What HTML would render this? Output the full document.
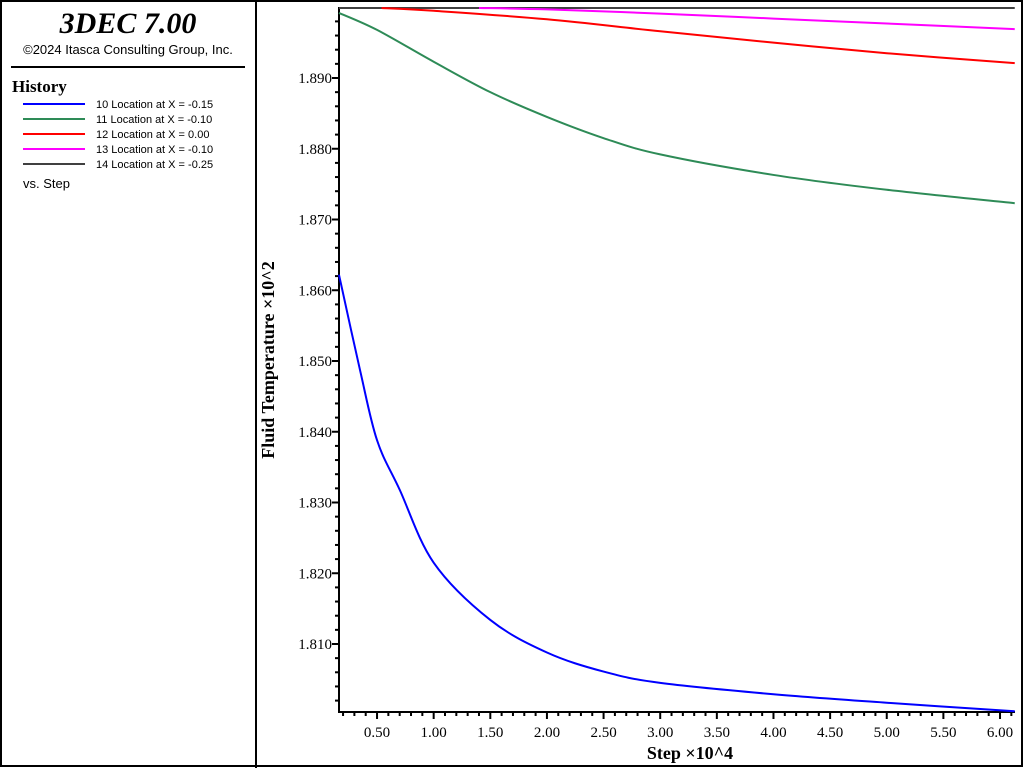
<!DOCTYPE html>
<html><head><meta charset="utf-8"><style>
body{margin:0;background:#fff;width:1024px;height:768px;overflow:hidden}
svg{display:block}
</style></head><body>
<svg id="c" width="1024" height="768" xmlns="http://www.w3.org/2000/svg">
<rect x="1" y="1" width="1021" height="765" fill="#fff" stroke="#000" stroke-width="2"/>
<line x1="256" y1="0" x2="256" y2="768" stroke="#000" stroke-width="2"/>
<text x="128" y="33" text-anchor="middle" font-family="Liberation Serif,serif" font-style="italic" font-weight="bold" font-size="30">3DEC 7.00</text>
<text x="128" y="54" text-anchor="middle" font-family="Liberation Sans,sans-serif" font-size="13">©2024 Itasca Consulting Group, Inc.</text>
<line x1="11" y1="67" x2="245" y2="67" stroke="#000" stroke-width="2"/>
<text x="12" y="92" font-family="Liberation Serif,serif" font-weight="bold" font-size="17">History</text>
<g id="legend" font-family="Liberation Sans,sans-serif" font-size="11"></g>
<text x="23" y="188" font-family="Liberation Sans,sans-serif" font-size="13">vs. Step</text>
<g id="plot"></g>
<text transform="translate(274,360) rotate(-90)" text-anchor="middle" font-family="Liberation Serif,serif" font-weight="bold" font-size="18">Fluid Temperature ×10^2</text>
<text x="690" y="759" text-anchor="middle" font-family="Liberation Serif,serif" font-weight="bold" font-size="18">Step ×10^4</text>
</svg>
<script>
const seriesNames=["10 Location at X = -0.15","11 Location at X = -0.10","12 Location at X =  0.00","13 Location at X = -0.10","14 Location at X = -0.25"];
const seriesColors=["#0000ff","#2e8b57","#ff0000","#ff00ff","#404040"];
const blueX=[0.164,0.35,0.5,0.7,1.0,1.5,2.0,2.5,3.0,4.0,5.0,6.13];
const blueY=[1.8622,1.8487,1.8388,1.8318,1.8215,1.8134,1.8088,1.8061,1.8045,1.8029,1.8017,1.8005];
const greenX=[0.164,0.5,1.0,1.5,2.0,2.5,3.0,4.0,5.0,6.13];
const greenY=[1.8992,1.8968,1.8923,1.8880,1.8845,1.8815,1.8792,1.8763,1.8742,1.8723];
const redX=[0.54,1.0,2.0,3.0,4.0,5.0,6.13];
const redY=[1.8999,1.8995,1.8983,1.8966,1.8950,1.8935,1.8921];
const magX=[1.4,2.0,3.0,4.0,5.0,6.13];
const magY=[1.8999,1.8997,1.8991,1.8984,1.8977,1.8969];
const grayX=[0.164,6.13];
const grayY=[1.8999,1.8999];
const xTicks=["0.50","1.00","1.50","2.00","2.50","3.00","3.50","4.00","4.50","5.00","5.50","6.00"];
const yTicks=["1.810","1.820","1.830","1.840","1.850","1.860","1.870","1.880","1.890"];
const NS="http://www.w3.org/2000/svg";
const L=339,R=1015,T=7,B=712;
function sx(v){return 320.4+v*113.27;}
function sy(v){return 78+(1.890-v)*7075;}
const plot=document.getElementById('plot');
function mk(tag,attrs,parent){const e=document.createElementNS(NS,tag);for(const k in attrs)e.setAttribute(k,attrs[k]);parent.appendChild(e);return e;}
const axes=mk('path',{d:`M${L},${T}V${B}H${R}`,fill:'none',stroke:'#000','stroke-width':2},plot);


// x minor ticks
for(let i=2;i<=61;i++){const v=i/10;const x=sx(v);if(x<L||x>R)continue;const maj=i%5===0;
const t=mk('line',{x1:x,x2:x,y1:B,y2:B+(maj?7:4),stroke:'#000','stroke-width':2},plot);

}
xTicks.forEach(s=>{const t=mk('text',{x:sx(parseFloat(s)),y:737,'text-anchor':'middle','font-family':'Liberation Serif,serif','font-size':15},plot);t.textContent=s;

});
for(let i=901;i<=950;i++){const v=i*0.002;const y=sy(v);if(y<T+3||y>B)continue;const maj=i%5===0;
const t=mk('line',{x1:L-(maj?7:4),x2:L,y1:y,y2:y,stroke:'#000','stroke-width':2},plot);

}
yTicks.forEach(s=>{const t=mk('text',{x:332,y:sy(parseFloat(s))+5,'text-anchor':'end','font-family':'Liberation Serif,serif','font-size':15},plot);t.textContent=s;

});
function smooth(xs,ys){const p=xs.map((x,i)=>[sx(x),sy(ys[i])]);let d=`M${p[0][0]},${p[0][1]}`;
for(let i=0;i<p.length-1;i++){const p0=p[i-1]||p[i],p1=p[i],p2=p[i+1],p3=p[i+2]||p2;
d+=`C${p1[0]+(p2[0]-p0[0])/6},${p1[1]+(p2[1]-p0[1])/6} ${p2[0]-(p3[0]-p1[0])/6},${p2[1]-(p3[1]-p1[1])/6} ${p2[0]},${p2[1]}`;}return d;}
const all=[[grayX,grayY],[magX,magY],[redX,redY],[greenX,greenY],[blueX,blueY]];
const cols=[seriesColors[4],seriesColors[3],seriesColors[2],seriesColors[1],seriesColors[0]];
const nm=['series-14','series-13','series-12','series-11','series-10'];
all.forEach((s,i)=>{const p=mk('path',{d:smooth(s[0],s[1]),fill:'none',stroke:cols[i],'stroke-width':2},plot);

});
const lg=document.getElementById('legend');
seriesNames.forEach((n,i)=>{const y=104+i*15;
const l=mk('line',{x1:23,x2:85,y1:y,y2:y,stroke:seriesColors[i],'stroke-width':2},lg);


const t=mk('text',{x:96,y:y+4},lg);t.textContent=n;

});
</script>
</body></html>
